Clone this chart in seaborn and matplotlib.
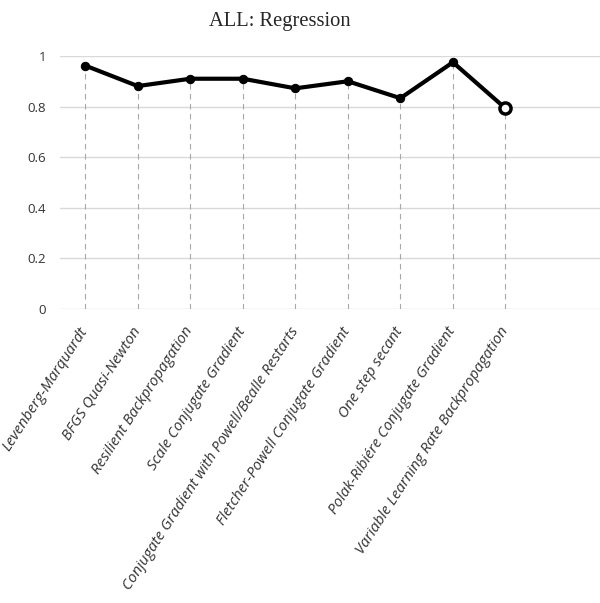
import matplotlib
matplotlib.use("Agg")
import matplotlib.pyplot as plt
import seaborn as sns
import pandas as pd

algorithms = [
    "Levenberg-Marquardt",
    "BFGS Quasi-Newton",
    "Resilient Backpropagation",
    "Scale Conjugate Gradient",
    "Conjugate Gradient with Powell/Bealle Restarts",
    "Fletcher-Powell Conjugate Gradient",
    "One step secant",
    "Polak-Ribiére Conjugate Gradient",
    "Variable Learning Rate Backpropagation",
]
regression = [0.962, 0.881, 0.910, 0.910, 0.872, 0.900, 0.833, 0.975, 0.793]
y_ticks = [0, 0.2, 0.4, 0.6, 0.8, 1]
y_tick_labels = ["0", "0.2", "0.4", "0.6", "0.8", "1"]

df = pd.DataFrame({"pos": range(len(algorithms)), "alg": algorithms, "r": regression})

sns.set_style("white")
fig = plt.figure(figsize=(6.0, 6.03), dpi=100)
ax = fig.add_axes([0.1, 0.4876, 0.9, 0.4196])

# dashed drop lines from each point down to zero
ax.vlines(df["pos"], 0, df["r"], colors="#a8a8a8", linestyles=(0, (5, 4)), linewidth=0.8, zorder=1)
for y in y_ticks:
    ax.axhline(y, color="#d9d9d9", linewidth=1.0, zorder=0)

sns.lineplot(data=df, x="pos", y="r", color="black", linewidth=3, marker="o",
             markersize=6, markeredgecolor="black", ax=ax, zorder=3, clip_on=False)
# last point is drawn hollow
last = df.iloc[-1]
ax.plot([last["pos"]], [last["r"]], marker="o", markersize=8, markerfacecolor="white",
        markeredgecolor="black", markeredgewidth=2.5, linestyle="none", zorder=4, clip_on=False)

ax.set_xlim(-0.48, 9.8)
ax.set_ylim(0, 1)
ax.set_yticks(y_ticks)
ax.set_yticklabels(y_tick_labels, fontsize=9.5, family="Open Sans", color="#333333")
ax.set_xticks(df["pos"])
ax.set_xticklabels(algorithms, rotation=57, ha="right", va="center", rotation_mode="anchor",
                   fontsize=10.8, style="italic", family="Open Sans", color="#333333")
ax.tick_params(axis="both", length=0)
ax.tick_params(axis="y", pad=10)
ax.tick_params(axis="x", pad=14)
ax.set_xlabel("")
ax.set_ylabel("")
for s in ax.spines.values():
    s.set_visible(False)

fig.text(0.466, 0.965, "ALL: Regression", ha="center", va="center", fontsize=14.8,
         family="Liberation Serif")

fig.savefig("out.png", dpi=100)
